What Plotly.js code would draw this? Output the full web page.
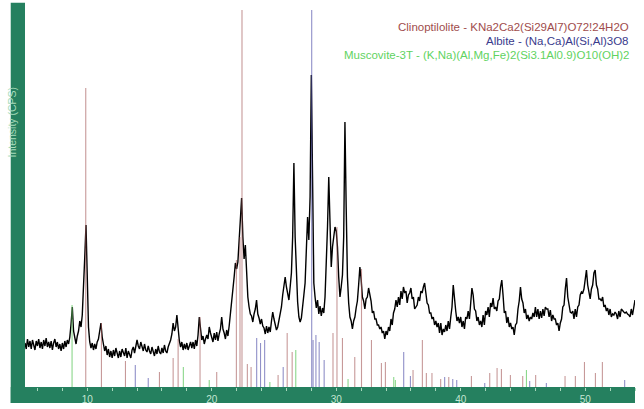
<!DOCTYPE html>
<html>
<head>
<meta charset="utf-8">
<script src="https://cdn.plot.ly/plotly-3.0.1.min.js"></script>
<style>html,body{margin:0;padding:0;background:#fff;}#chart{width:644px;height:409px;}</style>
</head>
<body>
<div id="chart"></div>
<script>
// Measured pattern: 2-theta from 5.0 to 54.0, step 0.1 deg (one row per degree)
const scanStart = 5.0;
const scanStep = 0.1;
const intensity = [
  44, 38, 48, 40, 46, 38, 47, 42, 37, 46,
  41, 48, 39, 45, 38, 47, 41, 49, 40, 45,
  39, 46, 37, 44, 48, 40, 45, 38, 43, 36,
  44, 38, 46, 40, 47, 43, 50, 63, 80, 56,
  47, 43, 51, 56, 66, 60, 72, 95, 130, 162,
  110, 60, 45, 39, 44, 37, 43, 38, 45, 48,
  56, 64, 50, 41, 36, 41, 32, 38, 30, 36,
  29, 37, 31, 39, 32, 29, 36, 30, 38, 33,
  31, 39, 29, 36, 32, 29, 37, 40, 34, 42,
  47, 41, 38, 45, 39, 36, 43, 37, 35, 41,
  36, 33, 40, 34, 31, 38, 33, 41, 35, 33,
  39, 34, 42, 36, 34, 40, 43, 47, 53, 64,
  56, 60, 72, 58, 46, 40, 45, 37, 43, 38,
  44, 37, 42, 45, 39, 45, 38, 47, 41, 52,
  70, 56, 47, 51, 43, 48, 52, 48, 60, 54,
  50, 45, 54, 47, 55, 46, 53, 58, 70, 58,
  54, 48, 57, 51, 61, 72, 85, 97, 110, 124,
  118, 125, 150, 178, 189, 150, 128, 142, 112, 90,
  80, 73, 71, 65, 73, 78, 87, 73, 69, 63,
  68, 61, 59, 53, 61, 54, 60, 55, 66, 75,
  68, 61, 57, 60, 67, 72, 80, 92, 104, 110,
  100, 92, 87, 100, 114, 150, 224, 150, 110, 85,
  70, 65, 69, 78, 92, 104, 150, 170, 147, 190,
  312, 180, 104, 90, 79, 87, 73, 81, 71, 79,
  74, 90, 120, 160, 210, 150, 120, 140, 150, 160,
  156, 140, 110, 90, 100, 112, 150, 265, 180, 110,
  84, 70, 66, 58, 66, 70, 79, 86, 102, 120,
  108, 90, 86, 78, 88, 90, 99, 92, 86, 74,
  76, 68, 68, 62, 62, 58, 60, 54, 56, 48,
  56, 52, 60, 56, 68, 62, 74, 78, 87, 80,
  90, 82, 96, 88, 100, 94, 96, 84, 92, 94,
  99, 88, 90, 78, 80, 82, 90, 86, 96, 94,
  100, 104, 94, 84, 82, 74, 74, 68, 70, 62,
  66, 60, 64, 54, 64, 52, 58, 55, 62, 56,
  66, 58, 70, 80, 102, 84, 76, 66, 70, 64,
  70, 60, 66, 58, 70, 68, 76, 68, 84, 99,
  92, 78, 76, 66, 70, 62, 66, 60, 72, 62,
  76, 72, 80, 70, 84, 80, 89, 78, 80, 76,
  86, 88, 100, 107, 92, 74, 76, 64, 70, 60,
  64, 58, 60, 52, 62, 64, 78, 86, 100, 88,
  84, 74, 78, 68, 72, 66, 70, 68, 74, 70,
  80, 70, 78, 68, 76, 69, 78, 71, 80, 78,
  78, 70, 77, 66, 72, 68, 68, 62, 64, 56,
  64, 68, 80, 82, 98, 109, 90, 82, 75, 74,
  76, 68, 78, 70, 80, 82, 92, 95, 94, 98,
  110, 117, 102, 96, 88, 98, 102, 114, 117, 102,
  98, 88, 88, 86, 90, 80, 82, 76, 79, 72,
  78, 70, 73, 72, 75, 73, 68, 76, 70, 78,
  76, 75, 74, 75, 73, 72, 70, 78, 72, 82,
  87
];

// Reference patterns (stick positions in 2-theta, heights in same units)
const clinoPos = [9.88, 11.14, 13.07, 15.8, 16.9, 17.3, 19.06, 20.4, 21.98, 22.27, 22.43, 22.86, 23.16, 25.33, 26.06, 26.46, 29.74, 30.06, 30.5, 31.49, 32.03, 32.83, 33.63, 33.95, 36.17, 36.92, 37.24, 37.69, 38.39, 39.04, 40.86, 42.33, 42.92, 43.27, 43.99, 44.98, 46.02, 48.38, 49.21, 49.94, 50.82, 51.38];
const clinoInt = [299, 64, 26, 15, 29, 48, 70, 15, 127, 150, 377, 23, 20, 12, 54, 35, 54, 160, 49, 30, 118, 47, 24, 25, 17, 47, 14, 14, 8, 10, 11, 14, 19, 18, 12, 11, 12, 11, 11, 25, 14, 25];
const albitePos = [13.86, 14.9, 23.61, 23.92, 24.25, 25.74, 28.03, 28.14, 28.37, 28.63, 29.03, 35.42, 35.96, 38.71, 39.36, 39.68, 41.93, 45.54, 46.88, 53.17];
const albiteInt = [22, 9, 49, 44, 47, 20, 377, 47, 52, 45, 27, 35, 11, 10, 8, 7, 4, 6, 4, 7];
const muscPos = [8.78, 17.72, 19.8, 24.67, 26.75, 30.95, 34.62, 34.75, 45.28];
const muscInt = [82, 20, 7, 5, 37, 8, 10, 7, 17];

const legendLines = [
  'Clinoptilolite - KNa2Ca2(Si29Al7)O72!24H2O',
  'Albite - (Na,Ca)Al(Si,Al)3O8',
  'Muscovite-3T - (K,Na)(Al,Mg,Fe)2(Si3.1Al0.9)O10(OH)2'
];
const legendColors = ['#a04c4c', '#3a3a8c', '#5fd35f'];
const xTitle = '';
const yTitle = 'Intensity (CPS)';

function sticks(pos, ints) {
  const x = [], y = [];
  pos.forEach((p, i) => { x.push(p, p, null); y.push(0, ints[i], null); });
  return {x, y};
}

const c = sticks(clinoPos, clinoInt);
const a = sticks(albitePos, albiteInt);
const m = sticks(muscPos, muscInt);

const green = '#25805f';

const data = [
  {type: 'scatter', mode: 'lines', x0: scanStart, dx: scanStep, y: intensity,
   line: {color: '#000', width: 1.4}, hoverinfo: 'skip'},
  {type: 'scatter', mode: 'lines', x: c.x, y: c.y, connectgaps: false,
   line: {color: 'rgba(165,90,90,0.62)', width: 1.1}, hoverinfo: 'skip'},
  {type: 'scatter', mode: 'lines', x: a.x, y: a.y, connectgaps: false,
   line: {color: 'rgba(85,85,170,0.65)', width: 1.1}, hoverinfo: 'skip'},
  {type: 'scatter', mode: 'lines', x: m.x, y: m.y, connectgaps: false,
   line: {color: 'rgba(110,205,110,0.8)', width: 1.1}, hoverinfo: 'skip'}
];

const ann = legendLines.map((t, i) => ({
  text: t, xref: 'paper', yref: 'paper', x: 0.9934, y: 0.9375 - i * 0.0365,
  xanchor: 'right', yanchor: 'middle', showarrow: false,
  font: {family: 'Liberation Sans, Arial, sans-serif', size: 11.5, color: legendColors[i]}
}));
ann.push({
  text: yTitle, xref: 'paper', yref: 'paper', x: -0.0205, y: 0.69,
  xanchor: 'center', yanchor: 'middle', textangle: -90, showarrow: false,
  font: {family: 'Liberation Sans, Arial, sans-serif', size: 10.5, color: '#a8dcbc'}
});

const layout = {
  width: 644, height: 409,
  margin: {l: 25, r: 9, t: 3, b: 22},
  paper_bgcolor: '#ffffff', plot_bgcolor: '#ffffff',
  showlegend: false,
  xaxis: {
    range: [5, 54], showgrid: false, zeroline: false, showline: false,
    tickmode: 'linear', tick0: 0, dtick: 10,
    ticks: 'outside', ticklen: 3, tickcolor: '#a8d8bc', tickwidth: 1,
    minor: {tickmode: 'linear', tick0: 0, dtick: 2, ticks: 'outside', ticklen: 3, tickcolor: '#a8d8bc'},
    tickfont: {family: 'Liberation Sans, Arial, sans-serif', size: 10, color: '#c4e6d2'},
    title: {text: xTitle}
  },
  yaxis: {
    range: [0, 384], visible: false, fixedrange: true
  },
  shapes: [
    {type: 'rect', xref: 'paper', yref: 'paper', x0: -0.0234, x1: 0, y0: -0.0417, y1: 1.0008,
     fillcolor: green, line: {width: 0}, layer: 'below'},
    {type: 'rect', xref: 'paper', yref: 'paper', x0: -0.0234, x1: 1, y0: -0.0417, y1: 0,
     fillcolor: green, line: {width: 0}, layer: 'below'}
  ],
  annotations: ann
};

Plotly.newPlot('chart', data, layout, {displayModeBar: false, staticPlot: true});
</script>
</body>
</html>
